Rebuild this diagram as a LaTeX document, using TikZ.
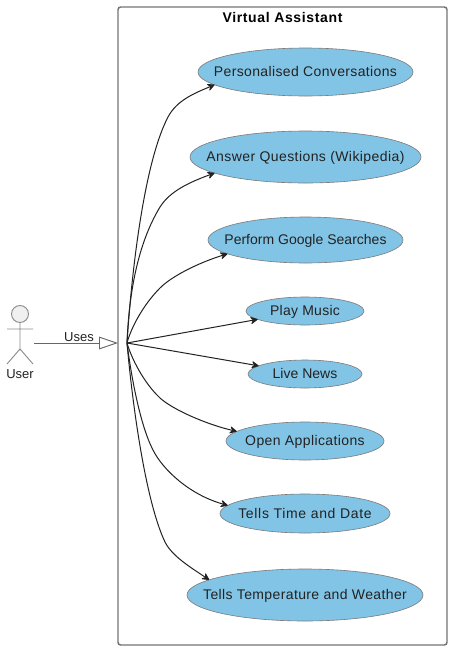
\documentclass[tikz,border=0pt]{standalone}
\usepackage{fontspec}
\setmainfont{Liberation Sans}
\usetikzlibrary{shapes.geometric,arrows.meta}
\definecolor{uc}{HTML}{82C4E6}
\definecolor{ln}{HTML}{222222}
\newcommand\uctext[2][2.6]{\makebox[0pt]{\addfontfeatures{LetterSpace=#1}\rule{0pt}{9.2pt}\vphantom{p}#2}}
\tikzset{
  usecase/.style={ellipse,draw=ln!60,line width=.45pt,fill=uc,inner sep=0pt,outer sep=0pt,text=ln,font=\fontsize{10.5}{12}\selectfont},
  link/.style={draw=ln,line width=.75pt,-{Stealth[length=6.5pt,width=6.5pt,inset=2.5pt,round]}},
  plain/.style={inner sep=0pt,text=ln,font=\fontsize{9.75}{12}\selectfont},
  stick/.style={draw=black!45,line width=.7pt},
  sysframe/.style={draw=black!55,line width=1.1pt,rounded corners=2pt,inner sep=0pt,outer sep=0pt}
}
\begin{document}
\begin{tikzpicture}[x=.75pt,y=-.75pt]
\useasboundingbox (0,0) rectangle (452,651);
\node[sysframe,minimum width=246.75pt,minimum height=478.5pt] (sys) at (282.5,326) {};
\node[font=\bfseries\fontsize{10.5}{12}\selectfont\addfontfeatures{LetterSpace=4.6},inner sep=0pt] (title) at (282.5,17) {Virtual Assistant};
\node[usecase,minimum width=161.25pt,minimum height=36pt] (e1) at (305.5,72) {\uctext{Personalised Conversations}};
\node[usecase,minimum width=173.25pt,minimum height=39pt] (e2) at (305.5,157) {\uctext[3]{Answer Questions (Wikipedia)}};
\node[usecase,minimum width=146.25pt,minimum height=34.5pt] (e3) at (305.5,240) {\uctext[.1]{Perform Google Searches}};
\node[usecase,minimum width=88.5pt,minimum height=21pt] (e4) at (305,311) {\uctext[2]{Play Music}};
\node[usecase,minimum width=85.5pt,minimum height=21pt] (e5) at (305,374) {\uctext[.2]{Live News}};
\node[usecase,minimum width=118.5pt,minimum height=28.5pt] (e6) at (305,441) {\uctext[2.8]{Open Applications}};
\node[usecase,minimum width=127.5pt,minimum height=29.25pt] (e7) at (305,513.5) {\uctext[4.9]{Tells Time and Date}};
\node[usecase,minimum width=177pt,minimum height=39pt] (e8) at (305,595) {\uctext[2.7]{Tells Temperature and Weather}};
% actor
\draw[stick,fill=black!6] (20,314) circle[radius=8.5];
\draw[stick] (20,322.5) -- (20,349) (7,329) -- (33,329) (7,364) -- (20,349) -- (33,364);
\node[plain] (user) at (20,374) {User};
\coordinate (hand) at (34,343);
\coordinate (target) at (118,343);
\coordinate (hub) at (127,343);
\draw[draw=black!60,line width=.7pt,-{Triangle[open,length=14.25pt,width=9.5pt,fill=white]}] (hand) -- (target);
\node[plain] (uses) at (79,337) {Uses};
% links
\draw[link] (hub) .. controls (131,280) and (143,165) .. (168,117) .. controls (177,100) and (195,93) .. (e1.188);
\draw[link] (hub) .. controls (129,295) and (137,245) .. (160,207) .. controls (170,191) and (190,182) .. (e2.190);
\draw[link] (hub) .. controls (131,328) and (143,305) .. (160,288) .. controls (172,276) and (198,263) .. (e3.190);
\draw[link] (hub) -- (e4.190);
\draw[link] (hub) -- (e5.170);
\draw[link] (hub) .. controls (131,357) and (143,382) .. (160,398) .. controls (172,409) and (205,424) .. (e6.172);
\draw[link] (hub) .. controls (131,375) and (140,425) .. (153,450) .. controls (163,470) and (190,495) .. (e7.174);
\draw[link] (hub) .. controls (132,400) and (145,500) .. (165,542) .. controls (172,556) and (190,567) .. (e8.171);
\end{tikzpicture}
\end{document}
